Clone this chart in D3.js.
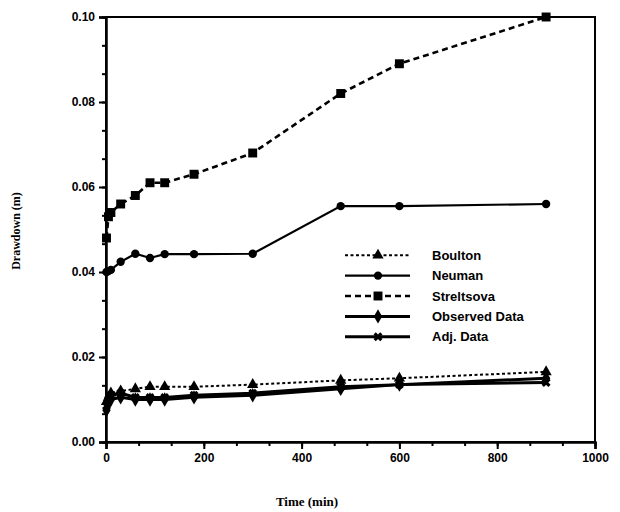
<!DOCTYPE html>
<html>
<head>
<meta charset="utf-8">
<script src="https://cdn.jsdelivr.net/npm/d3@7"></script>
<style>
  body { margin: 0; background: #fff; }
  svg text { fill: #000; }
</style>
</head>
<body>
<svg id="chart" width="620" height="512"></svg>
<script>
// time values (min) shared by every series
const times = [1, 5, 10, 30, 60, 90, 120, 180, 300, 480, 600, 900];

const boulton = [0.0095, 0.0105, 0.0115, 0.012, 0.0125, 0.013, 0.013, 0.013, 0.0135, 0.0145, 0.015, 0.0165];
const neuman = [0.040, 0.0402, 0.0405, 0.0424, 0.0443, 0.0433, 0.0442, 0.0442, 0.0443, 0.0555, 0.0555, 0.056];
const streltsova = [0.048, 0.053, 0.054, 0.056, 0.058, 0.061, 0.061, 0.063, 0.068, 0.082, 0.089, 0.100];
const observed = [0.0075, 0.009, 0.010, 0.0105, 0.010, 0.010, 0.010, 0.0105, 0.011, 0.0125, 0.0135, 0.015];
const adjusted = [0.0085, 0.010, 0.011, 0.0115, 0.0105, 0.0105, 0.0105, 0.011, 0.0115, 0.013, 0.0135, 0.014];

const seriesNames = ["Boulton", "Neuman", "Streltsova", "Observed Data", "Adj. Data"];
const xTicks = [0, 200, 400, 600, 800, 1000];
const yTicks = [0, 0.02, 0.04, 0.06, 0.08, 0.10];

const series = [
    { name: seriesNames[0], values: boulton, dash: "3,2.5", width: 2, symbol: d3.symbolTriangle, size: 55 },
    { name: seriesNames[1], values: neuman, dash: null, width: 2.2, symbol: d3.symbolCircle, size: 55 },
    { name: seriesNames[2], values: streltsova, dash: "6,4", width: 2.6, symbol: d3.symbolSquare, size: 80 },
    { name: seriesNames[3], values: observed, dash: null, width: 3, symbol: d3.symbolDiamond, size: 60 },
    { name: seriesNames[4], values: adjusted, dash: null, width: 3, symbol: d3.symbolCross, size: 50 }
];

const svg = d3.select("#chart");
const plotLeft = 106, plotRight = 595, plotTop = 17, plotBottom = 442;

const x = d3.scaleLinear().domain([0, 1000]).range([plotLeft, plotRight]);
const y = d3.scaleLinear().domain([0, 0.1]).range([plotBottom, plotTop]);

// frame
svg.append("rect")
    .attr("x", plotLeft).attr("y", plotTop)
    .attr("width", plotRight - plotLeft).attr("height", plotBottom - plotTop)
    .attr("fill", "none").attr("stroke", "#000").attr("stroke-width", 2);

// minor ticks (three intervals per major step)
const xMinor = d3.range(0, 1000.1, 200 / 3);
const yMinor = d3.range(0, 0.1001, 0.02 / 3);

svg.append("g")
    .attr("transform", `translate(0,${plotBottom})`)
    .call(d3.axisBottom(x).tickValues(xMinor).tickSize(4).tickFormat(""))
    .call(g => g.select(".domain").remove())
    .call(g => g.selectAll("line").attr("stroke-width", 2));

svg.append("g")
    .attr("transform", `translate(${plotLeft},0)`)
    .call(d3.axisLeft(y).tickValues(yMinor).tickSize(4).tickFormat(""))
    .call(g => g.select(".domain").remove())
    .call(g => g.selectAll("line").attr("stroke-width", 2));

// major ticks + labels
svg.append("g")
    .attr("transform", `translate(0,${plotBottom})`)
    .call(d3.axisBottom(x).tickValues(xTicks).tickSize(7).tickPadding(4).tickFormat(d3.format("d")))
    .call(g => g.select(".domain").attr("stroke-width", 2.5))
    .call(g => g.selectAll("line").attr("stroke-width", 2))
    .call(g => g.selectAll("text")
        .attr("font-family", "Liberation Sans, Arial, sans-serif")
        .attr("font-size", 12).attr("font-weight", "bold"));

svg.append("g")
    .attr("transform", `translate(${plotLeft},0)`)
    .call(d3.axisLeft(y).tickValues(yTicks).tickSize(7).tickPadding(4).tickFormat(d3.format(".2f")))
    .call(g => g.select(".domain").attr("stroke-width", 2.5))
    .call(g => g.selectAll("line").attr("stroke-width", 2))
    .call(g => g.selectAll("text")
        .attr("font-family", "Liberation Sans, Arial, sans-serif")
        .attr("font-size", 12).attr("font-weight", "bold"));

// axis titles
svg.append("text")
    .attr("x", 307).attr("y", 506)
    .attr("text-anchor", "middle")
    .attr("font-family", "Liberation Serif, Times New Roman, serif")
    .attr("font-weight", "bold").attr("font-size", 13)
    .text("Time (min)");

svg.append("text")
    .attr("transform", "translate(20,231) rotate(-90)")
    .attr("text-anchor", "middle")
    .attr("font-family", "Liberation Serif, Times New Roman, serif")
    .attr("font-weight", "bold").attr("font-size", 12)
    .text("Drawdown (m)");

// series
const line = d3.line()
    .x((d, i) => x(times[i]))
    .y(d => y(d));

const plot = svg.append("g");
series.forEach(s => {
    plot.append("path")
        .datum(s.values)
        .attr("d", line)
        .attr("fill", "none")
        .attr("stroke", "#000")
        .attr("stroke-width", s.width)
        .attr("stroke-dasharray", s.dash);

    plot.selectAll(null)
        .data(s.values)
        .join("path")
        .attr("transform", (d, i) => `translate(${x(times[i])},${y(d)})${s.symbol === d3.symbolCross ? " rotate(45)" : ""}`)
        .attr("d", d3.symbol().type(s.symbol).size(s.size))
        .attr("fill", "#000");
});

// legend
const legend = svg.append("g");
const legY = d3.scaleBand().domain(seriesNames).range([245, 347]);
series.forEach(s => {
    const cy = legY(s.name) + legY.bandwidth() / 2;
    legend.append("line")
        .attr("x1", 345).attr("x2", 410)
        .attr("y1", cy).attr("y2", cy)
        .attr("stroke", "#000")
        .attr("stroke-width", s.width)
        .attr("stroke-dasharray", s.dash);
    legend.append("path")
        .attr("transform", `translate(378,${cy})${s.symbol === d3.symbolCross ? " rotate(45)" : ""}`)
        .attr("d", d3.symbol().type(s.symbol).size(s.size))
        .attr("fill", "#000");
    legend.append("text")
        .attr("x", 432).attr("y", cy + 4.5)
        .attr("font-family", "Liberation Sans, Arial, sans-serif")
        .attr("font-size", 13).attr("font-weight", "bold")
        .text(s.name);
});
</script>
</body>
</html>
